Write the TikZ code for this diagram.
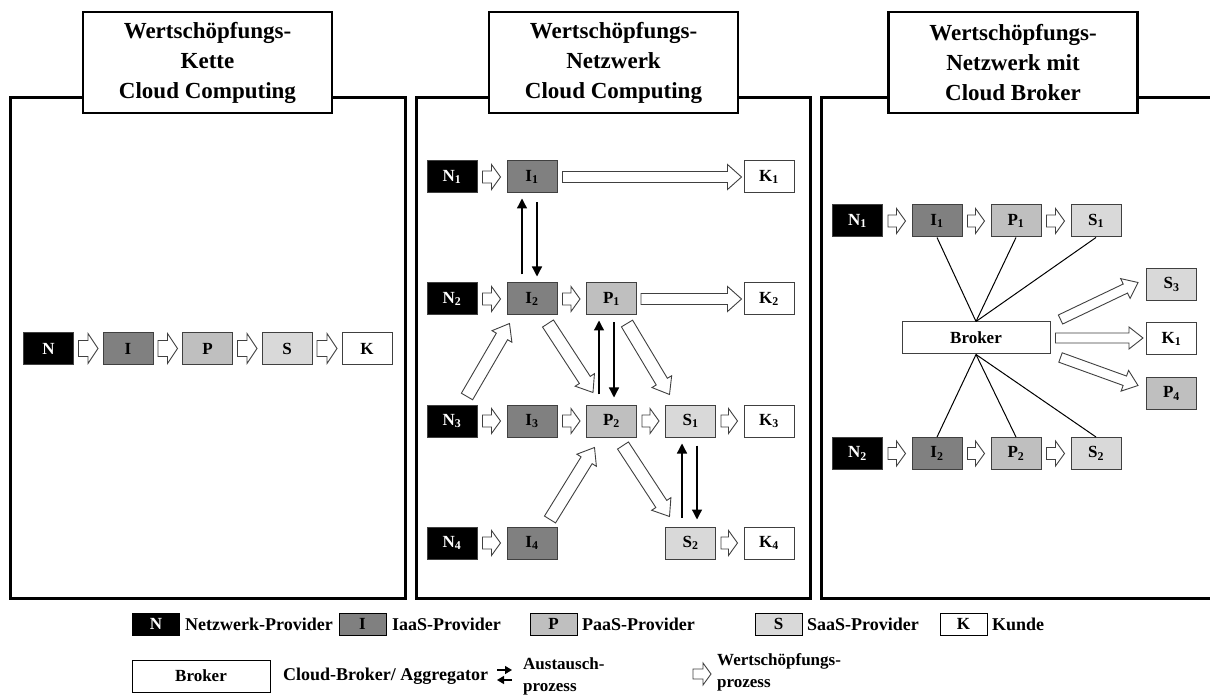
\documentclass[tikz,border=0pt]{standalone}
\usepackage{fontspec}
\setmainfont{Liberation Serif}
\usetikzlibrary{calc,arrows.meta}
\definecolor{cI}{gray}{0.50}
\definecolor{cP}{gray}{0.75}
\definecolor{cS}{gray}{0.85}
\definecolor{edge}{gray}{0.25}
\tikzset{
  frame/.style={line width=3pt, draw=black},
  headbox/.style={draw=black, line width=2.5pt, fill=white, minimum width=249pt, minimum height=101pt, align=center, inner sep=0pt, font=\bfseries\fontsize{23}{30}\selectfont},
  pbox/.style={draw=edge, line width=1pt, minimum width=50pt, minimum height=32pt, inner sep=0pt, font=\bfseries\fontsize{17}{17}\selectfont},
  nb/.style={pbox, fill=black, text=white},
  ib/.style={pbox, fill=cI},
  pb/.style={pbox, fill=cP},
  sb/.style={pbox, fill=cS},
  kb/.style={pbox, fill=white},
  lbox/.style={draw=black, line width=1pt, minimum width=47pt, minimum height=22pt, inner sep=0pt, font=\bfseries\fontsize{17}{17}\selectfont},
  ltext/.style={anchor=west, inner sep=0pt, font=\bfseries\fontsize{18}{18}\selectfont},
  ltwo/.style={anchor=west, inner sep=0pt, align=left, font=\bfseries\fontsize{17}{22}\selectfont},
  harr/.style={draw=edge, line width=0.9pt, fill=white, line join=miter},
  xarr/.style={draw=black, line width=1.3pt, -{Triangle[width=10pt,length=10pt]}},
  bline/.style={draw=black, line width=1pt},
}
% hollow arrow: start, end, shaft half width, head half width, head length
\newcommand\harrow[5]{%
  \coordinate (ha-s) at #1;
  \coordinate (ha-e) at #2;
  \coordinate (ha-c) at ($(ha-e)!#5!(ha-s)$);
  \draw[harr] ($(ha-s)!#3!90:(ha-e)$) -- ($(ha-c)!#3!90:(ha-e)$) -- ($(ha-c)!#4!90:(ha-e)$) -- (ha-e)
    -- ($(ha-c)!#4!-90:(ha-e)$) -- ($(ha-c)!#3!-90:(ha-e)$) -- ($(ha-s)!#3!-90:(ha-e)$) -- cycle;
}
\newcommand\sarrowA[2]{\harrow{($(#1.east)+(4.5,0)$)}{($(#2.west)+(-4.5,0)$)}{8pt}{15pt}{10pt}}
\newcommand\sarrowB[2]{\harrow{($(#1.east)+(5,0)$)}{($(#2.west)+(-6,0)$)}{6pt}{12.5pt}{9pt}}
\begin{document}
\begin{tikzpicture}[x=1pt,y=-1pt]
\useasboundingbox (0,0) rectangle (1210,700);
\fill[white] (0,0) rectangle (1210,700);

% frames
\draw[frame] (10,98) rectangle (405,598);
\draw[frame] (416,98) rectangle (810,598);
\draw[frame] (1220,98) -- (821,98) -- (821,598) -- (1220,598);

% headers
\node[headbox] (h1) at (207.5,62.5) {Wertschöpfungs-\\Kette\\Cloud Computing};
\node[headbox] (h2) at (613.5,62.5) {Wertschöpfungs-\\Netzwerk\\Cloud Computing};
\node[headbox] (h3) at (1013,62.5) {Wertschöpfungs-\\Netzwerk mit\\Cloud Broker};

% ---------- panel 1 ----------
\begin{scope}[every node/.append style={minimum height=33pt}]
\node[nb] (aN) at (48.5,348.5) {N};
\node[ib] (aI) at (128,348.5) {I};
\node[pb] (aP) at (207.5,348.5) {P};
\node[sb] (aS) at (287,348.5) {S};
\node[kb] (aK) at (367,348.5) {K};
\end{scope}
\sarrowA{aN}{aI}
\sarrowA{aI}{aP}
\sarrowA{aP}{aS}
\sarrowA{aS}{aK}

% ---------- panel 2 ----------
\node[nb] (bN1) at (452,177) {N\textsubscript{1}};
\node[ib] (bI1) at (532,177) {I\textsubscript{1}};
\node[kb] (bK1) at (769,177) {K\textsubscript{1}};

\node[nb] (bN2) at (452,299) {N\textsubscript{2}};
\node[ib] (bI2) at (532,299) {I\textsubscript{2}};
\node[pb] (bP1) at (611.5,299) {P\textsubscript{1}};
\node[kb] (bK2) at (769,299) {K\textsubscript{2}};

\node[nb] (bN3) at (452,421) {N\textsubscript{3}};
\node[ib] (bI3) at (532,421) {I\textsubscript{3}};
\node[pb] (bP2) at (611.5,421) {P\textsubscript{2}};
\node[sb] (bS1) at (690.5,421) {S\textsubscript{1}};
\node[kb] (bK3) at (769,421) {K\textsubscript{3}};

\node[nb] (bN4) at (452,543) {N\textsubscript{4}};
\node[ib] (bI4) at (532,543) {I\textsubscript{4}};
\node[sb] (bS2) at (690.5,543) {S\textsubscript{2}};
\node[kb] (bK4) at (769,543) {K\textsubscript{4}};

\sarrowB{bN1}{bI1}
\sarrowB{bN2}{bI2}
\sarrowB{bI2}{bP1}
\sarrowB{bN3}{bI3}
\sarrowB{bI3}{bP2}
\sarrowB{bP2}{bS1}
\sarrowB{bS1}{bK3}
\sarrowB{bN4}{bI4}
\sarrowB{bS2}{bK4}
\harrow{($(bI1.east)+(5,0)$)}{($(bK1.west)+(-2,0)$)}{5.5pt}{12.5pt}{14pt}
\harrow{($(bP1.east)+(4,0)$)}{($(bK2.west)+(-2,0)$)}{5.5pt}{12.5pt}{14pt}

% diagonal value arrows
\harrow{($(bN3.north)+(15,-8)$)}{($(bI2.south west)+(3,8)$)}{6.5pt}{11.5pt}{15pt}
\harrow{($(bI2.south)+(16,8)$)}{($(bP2.north west)+(7,-12)$)}{6.5pt}{11.5pt}{15pt}
\harrow{($(bP1.south)+(15.5,8)$)}{($(bS1.north west)+(4.5,-10)$)}{6.5pt}{11.5pt}{15pt}
\harrow{($(bI4.north)+(18,-7)$)}{($(bP2.south west)+(8.5,10)$)}{6.5pt}{11.5pt}{15pt}
\harrow{($(bP2.south)+(11.5,8)$)}{($(bS2.north west)+(4.5,-10)$)}{6.5pt}{11.5pt}{15pt}

% exchange arrows
\draw[xarr] ($(bI2.north)+(-10,-8)$) -- ($(bI1.south)+(-10,5)$);
\draw[xarr] ($(bI1.south)+(5,9)$) -- ($(bI2.north)+(5,-6)$);
\draw[xarr] ($(bP2.north)+(-12.5,-10)$) -- ($(bP1.south)+(-12.5,5)$);
\draw[xarr] ($(bP1.south)+(2.5,7)$) -- ($(bP2.north)+(2.5,-7)$);
\draw[xarr] ($(bS2.north)+(-8.5,-9)$) -- ($(bS1.south)+(-8.5,6)$);
\draw[xarr] ($(bS1.south)+(6.5,8)$) -- ($(bS2.north)+(6.5,-7)$);

% ---------- panel 3 ----------
\node[nb] (cN1) at (857.5,221) {N\textsubscript{1}};
\node[ib] (cI1) at (937,221) {I\textsubscript{1}};
\node[pb] (cP1) at (1016,221) {P\textsubscript{1}};
\node[sb] (cS1) at (1096,221) {S\textsubscript{1}};

\node[nb] (cN2) at (857.5,453.5) {N\textsubscript{2}};
\node[ib] (cI2) at (937,453.5) {I\textsubscript{2}};
\node[pb] (cP2) at (1016,453.5) {P\textsubscript{2}};
\node[sb] (cS2) at (1096,453.5) {S\textsubscript{2}};

\node[kb, minimum width=148pt] (cB) at (976,338) {Broker};
\node[sb] (cS3) at (1171.5,284.5) {S\textsubscript{3}};
\node[kb] (cK1) at (1171.5,339) {K\textsubscript{1}};
\node[pb] (cP4) at (1171.5,393.5) {P\textsubscript{4}};

\sarrowB{cN1}{cI1}
\sarrowB{cI1}{cP1}
\sarrowB{cP1}{cS1}
\sarrowB{cN2}{cI2}
\sarrowB{cI2}{cP2}
\sarrowB{cP2}{cS2}

\draw[bline] (cB.north) -- (cI1.south);
\draw[bline] (cB.north) -- (cP1.south);
\draw[bline] (cB.north) -- (cS1.south);
\draw[bline] (cB.south) -- (cI2.north);
\draw[bline] (cB.south) -- (cP2.north);
\draw[bline] (cB.south) -- (cS2.north);

\harrow{($(cB.north east)+(10,-2)$)}{($(cS3.west)+(-8,-2)$)}{5pt}{11pt}{14pt}
\harrow{($(cB.east)+(5,0)$)}{($(cK1.west)+(-3,-1)$)}{5pt}{11pt}{14pt}
\harrow{($(cB.south east)+(10,3)$)}{($(cP4.west)+(-8,-8)$)}{5pt}{11pt}{14pt}

% ---------- legend ----------
\node[lbox, fill=black, text=white] (lN) at (156,624) {N};
\node[ltext] (tN) at (185,624) {Netzwerk-Provider};
\node[lbox, fill=cI] (lI) at (362.5,624) {I};
\node[ltext] (tI) at (392,624) {IaaS-Provider};
\node[lbox, fill=cP] (lP) at (553.5,624) {P};
\node[ltext] (tP) at (582,624) {PaaS-Provider};
\node[lbox, fill=cS] (lS) at (778.5,624) {S};
\node[ltext] (tS) at (807,624) {SaaS-Provider};
\node[lbox, fill=white] (lK) at (963.5,624) {K};
\node[ltext] (tK) at (992,624) {Kunde};

\node[lbox, fill=white, minimum width=138pt, minimum height=32pt] (lB) at (201,676) {Broker};
\node[ltext] (tB) at (283,676) {Cloud-Broker/ Aggregator};

\coordinate (xa1) at (497,670);
\coordinate (xa2) at (512,670);
\coordinate (xb1) at (512,680);
\coordinate (xb2) at (497,680);
\draw[draw=black, line width=1.4pt, -{Triangle[width=8pt,length=7pt]}] (xa1) -- (xa2);
\draw[draw=black, line width=1.4pt, -{Triangle[width=8pt,length=7pt]}] (xb1) -- (xb2);
\node[ltwo] (tX) at (523,676) {Austausch-\\prozess};

\coordinate (wa1) at (693,674);
\coordinate (wa2) at (711,674);
\harrow{(wa1)}{(wa2)}{5pt}{11pt}{8pt}
\node[ltwo] (tW) at (717,672) {Wertschöpfungs-\\prozess};
\end{tikzpicture}
\end{document}
